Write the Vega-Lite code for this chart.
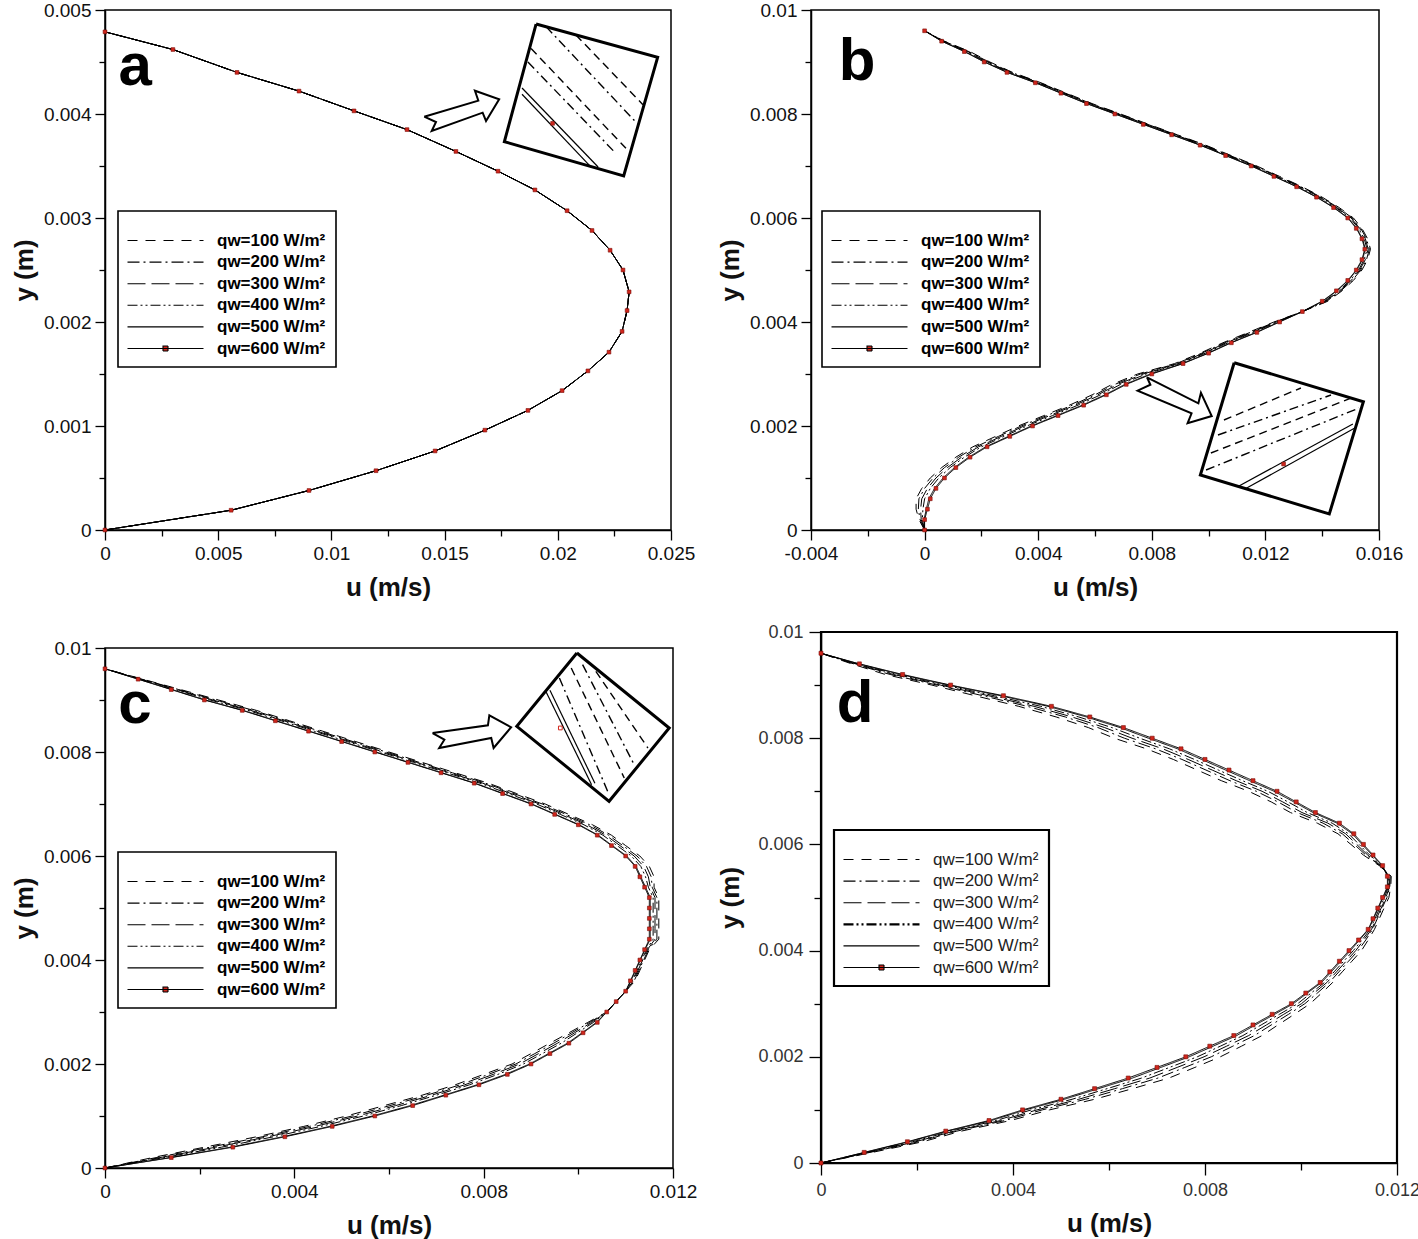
{
"$schema": "https://vega.github.io/schema/vega-lite/v6.json",
"background": "white",
"padding": {"left": 10, "top": 0, "right": 0, "bottom": 0},
"datasets": {
"A": [
{"y":0.00479,"q100":0,"q200":0,"q300":0,"q400":0,"q500":0,"q600":0},
{"y":0.00462,"q100":0.003,"q200":0.003,"q300":0.003,"q400":0.003,"q500":0.003,"q600":0.003},
{"y":0.0044,"q100":0.00583,"q200":0.00583,"q300":0.00583,"q400":0.00583,"q500":0.00583,"q600":0.00583},
{"y":0.00422,"q100":0.00857,"q200":0.00857,"q300":0.00857,"q400":0.00857,"q500":0.00857,"q600":0.00857},
{"y":0.00403,"q100":0.011,"q200":0.011,"q300":0.011,"q400":0.011,"q500":0.011,"q600":0.011},
{"y":0.00385,"q100":0.01334,"q200":0.01334,"q300":0.01334,"q400":0.01334,"q500":0.01334,"q600":0.01334},
{"y":0.00364,"q100":0.0155,"q200":0.0155,"q300":0.0155,"q400":0.0155,"q500":0.0155,"q600":0.0155},
{"y":0.00345,"q100":0.01736,"q200":0.01736,"q300":0.01736,"q400":0.01736,"q500":0.01736,"q600":0.01736},
{"y":0.00327,"q100":0.01899,"q200":0.01899,"q300":0.01899,"q400":0.01899,"q500":0.01899,"q600":0.01899},
{"y":0.00307,"q100":0.02041,"q200":0.02041,"q300":0.02041,"q400":0.02041,"q500":0.02041,"q600":0.02041},
{"y":0.00288,"q100":0.02151,"q200":0.02151,"q300":0.02151,"q400":0.02151,"q500":0.02151,"q600":0.02151},
{"y":0.00269,"q100":0.02231,"q200":0.02231,"q300":0.02231,"q400":0.02231,"q500":0.02231,"q600":0.02231},
{"y":0.0025,"q100":0.02288,"q200":0.02288,"q300":0.02288,"q400":0.02288,"q500":0.02288,"q600":0.02288},
{"y":0.00229,"q100":0.02315,"q200":0.02315,"q300":0.02315,"q400":0.02315,"q500":0.02315,"q600":0.02315},
{"y":0.00211,"q100":0.02306,"q200":0.02306,"q300":0.02306,"q400":0.02306,"q500":0.02306,"q600":0.02306},
{"y":0.00191,"q100":0.02284,"q200":0.02284,"q300":0.02284,"q400":0.02284,"q500":0.02284,"q600":0.02284},
{"y":0.00171,"q100":0.02226,"q200":0.02226,"q300":0.02226,"q400":0.02226,"q500":0.02226,"q600":0.02226},
{"y":0.00153,"q100":0.02133,"q200":0.02133,"q300":0.02133,"q400":0.02133,"q500":0.02133,"q600":0.02133},
{"y":0.00134,"q100":0.02019,"q200":0.02019,"q300":0.02019,"q400":0.02019,"q500":0.02019,"q600":0.02019},
{"y":0.00115,"q100":0.01868,"q200":0.01868,"q300":0.01868,"q400":0.01868,"q500":0.01868,"q600":0.01868},
{"y":0.00096,"q100":0.01678,"q200":0.01678,"q300":0.01678,"q400":0.01678,"q500":0.01678,"q600":0.01678},
{"y":0.00076,"q100":0.01458,"q200":0.01458,"q300":0.01458,"q400":0.01458,"q500":0.01458,"q600":0.01458},
{"y":0.00057,"q100":0.01197,"q200":0.01197,"q300":0.01197,"q400":0.01197,"q500":0.01197,"q600":0.01197},
{"y":0.00038,"q100":0.00901,"q200":0.00901,"q300":0.00901,"q400":0.00901,"q500":0.00901,"q600":0.00901},
{"y":0.00019,"q100":0.00557,"q200":0.00557,"q300":0.00557,"q400":0.00557,"q500":0.00557,"q600":0.00557},
{"y":0,"q100":0,"q200":0,"q300":0,"q400":0,"q500":0,"q600":0}
],
"B": [
{"y":0.0096,"q100":0,"q200":0,"q300":0,"q400":0,"q500":0,"q600":0},
{"y":0.0094,"q100":0.0007,"q200":0.00068,"q300":0.00066,"q400":0.00064,"q500":0.00061,"q600":0.0006},
{"y":0.0092,"q100":0.0016,"q200":0.00156,"q300":0.00152,"q400":0.00148,"q500":0.00142,"q600":0.0014},
{"y":0.009,"q100":0.0023,"q200":0.00226,"q300":0.00222,"q400":0.00218,"q500":0.00212,"q600":0.0021},
{"y":0.0088,"q100":0.0031,"q200":0.00306,"q300":0.00302,"q400":0.00298,"q500":0.00292,"q600":0.0029},
{"y":0.0086,"q100":0.0041,"q200":0.00406,"q300":0.00402,"q400":0.00398,"q500":0.00392,"q600":0.0039},
{"y":0.0084,"q100":0.005,"q200":0.00496,"q300":0.00492,"q400":0.00488,"q500":0.00482,"q600":0.0048},
{"y":0.0082,"q100":0.0059,"q200":0.00586,"q300":0.00582,"q400":0.00578,"q500":0.00572,"q600":0.0057},
{"y":0.008,"q100":0.0069,"q200":0.00686,"q300":0.00682,"q400":0.00678,"q500":0.00672,"q600":0.0067},
{"y":0.0078,"q100":0.0079,"q200":0.00786,"q300":0.00782,"q400":0.00778,"q500":0.00772,"q600":0.0077},
{"y":0.0076,"q100":0.0089,"q200":0.00886,"q300":0.00882,"q400":0.00878,"q500":0.00872,"q600":0.0087},
{"y":0.0074,"q100":0.0099,"q200":0.00986,"q300":0.00982,"q400":0.00978,"q500":0.00972,"q600":0.0097},
{"y":0.0072,"q100":0.0108,"q200":0.01076,"q300":0.01072,"q400":0.01068,"q500":0.01062,"q600":0.0106},
{"y":0.007,"q100":0.0117,"q200":0.01166,"q300":0.01162,"q400":0.01158,"q500":0.01152,"q600":0.0115},
{"y":0.0068,"q100":0.0125,"q200":0.01246,"q300":0.01242,"q400":0.01238,"q500":0.01232,"q600":0.0123},
{"y":0.0066,"q100":0.0133,"q200":0.01326,"q300":0.01322,"q400":0.01318,"q500":0.01312,"q600":0.0131},
{"y":0.0064,"q100":0.014,"q200":0.01396,"q300":0.01392,"q400":0.01388,"q500":0.01382,"q600":0.0138},
{"y":0.0062,"q100":0.0146,"q200":0.01456,"q300":0.01452,"q400":0.01448,"q500":0.01442,"q600":0.0144},
{"y":0.006,"q100":0.0151,"q200":0.01506,"q300":0.01502,"q400":0.01498,"q500":0.01492,"q600":0.0149},
{"y":0.0058,"q100":0.0154,"q200":0.01536,"q300":0.01532,"q400":0.01528,"q500":0.01522,"q600":0.0152},
{"y":0.0056,"q100":0.0156,"q200":0.01556,"q300":0.01552,"q400":0.01548,"q500":0.01542,"q600":0.0154},
{"y":0.0054,"q100":0.0157,"q200":0.01566,"q300":0.01562,"q400":0.01558,"q500":0.01552,"q600":0.0155},
{"y":0.0052,"q100":0.0156,"q200":0.01556,"q300":0.01552,"q400":0.01548,"q500":0.01542,"q600":0.0154},
{"y":0.005,"q100":0.0154,"q200":0.01536,"q300":0.01532,"q400":0.01528,"q500":0.01522,"q600":0.0152},
{"y":0.0048,"q100":0.0151,"q200":0.01506,"q300":0.01502,"q400":0.01498,"q500":0.01492,"q600":0.0149},
{"y":0.0046,"q100":0.0147,"q200":0.01466,"q300":0.01462,"q400":0.01458,"q500":0.01452,"q600":0.0145},
{"y":0.0044,"q100":0.0142,"q200":0.01416,"q300":0.01412,"q400":0.01408,"q500":0.01402,"q600":0.014},
{"y":0.0042,"q100":0.0133,"q200":0.0133,"q300":0.0133,"q400":0.0133,"q500":0.0133,"q600":0.0133},
{"y":0.004,"q100":0.0123,"q200":0.01234,"q300":0.01238,"q400":0.01242,"q500":0.01248,"q600":0.0125},
{"y":0.0038,"q100":0.0114,"q200":0.01146,"q300":0.01152,"q400":0.01158,"q500":0.01167,"q600":0.0117},
{"y":0.0036,"q100":0.0105,"q200":0.01056,"q300":0.01062,"q400":0.01068,"q500":0.01077,"q600":0.0108},
{"y":0.0034,"q100":0.0097,"q200":0.00976,"q300":0.00982,"q400":0.00988,"q500":0.00997,"q600":0.01},
{"y":0.0032,"q100":0.0088,"q200":0.00886,"q300":0.00892,"q400":0.00898,"q500":0.00907,"q600":0.0091},
{"y":0.003,"q100":0.0075,"q200":0.0076,"q300":0.0077,"q400":0.0078,"q500":0.00795,"q600":0.008},
{"y":0.0028,"q100":0.0066,"q200":0.0067,"q300":0.0068,"q400":0.0069,"q500":0.00705,"q600":0.0071},
{"y":0.0026,"q100":0.0059,"q200":0.006,"q300":0.0061,"q400":0.0062,"q500":0.00635,"q600":0.0064},
{"y":0.0024,"q100":0.0051,"q200":0.0052,"q300":0.0053,"q400":0.0054,"q500":0.00555,"q600":0.0056},
{"y":0.0022,"q100":0.0042,"q200":0.0043,"q300":0.0044,"q400":0.0045,"q500":0.00465,"q600":0.0047},
{"y":0.002,"q100":0.0033,"q200":0.0034,"q300":0.0035,"q400":0.0036,"q500":0.00375,"q600":0.0038},
{"y":0.0018,"q100":0.0025,"q200":0.0026,"q300":0.0027,"q400":0.0028,"q500":0.00295,"q600":0.003},
{"y":0.0016,"q100":0.0017,"q200":0.0018,"q300":0.0019,"q400":0.002,"q500":0.00215,"q600":0.0022},
{"y":0.0014,"q100":0.0011,"q200":0.0012,"q300":0.0013,"q400":0.0014,"q500":0.00155,"q600":0.0016},
{"y":0.0012,"q100":0.0006,"q200":0.0007,"q300":0.0008,"q400":0.0009,"q500":0.00105,"q600":0.0011},
{"y":0.001,"q100":0.0002,"q200":0.0003,"q300":0.0004,"q400":0.0005,"q500":0.00065,"q600":0.0007},
{"y":0.0008,"q100":-0.0001,"q200":0,"q300":0.0001,"q400":0.0002,"q500":0.00035,"q600":0.0004},
{"y":0.0006,"q100":-0.0003,"q200":-0.0002,"q300":-0.0001,"q400":0,"q500":0.00015,"q600":0.0002},
{"y":0.0004,"q100":-0.0003,"q200":-0.00022,"q300":-0.00014,"q400":-0.00006,"q500":0.00006,"q600":0.0001},
{"y":0.0002,"q100":-0.0002,"q200":-0.00016,"q300":-0.00012,"q400":-0.00008,"q500":-0.00002,"q600":0},
{"y":0,"q100":0,"q200":0,"q300":0,"q400":0,"q500":0,"q600":0}
],
"C": [
{"y":0.0096,"q100":0,"q200":0,"q300":0,"q400":0,"q500":0,"q600":0},
{"y":0.0094,"q100":0.0008,"q200":0.00078,"q300":0.00076,"q400":0.00074,"q500":0.00071,"q600":0.0007},
{"y":0.0092,"q100":0.0016,"q200":0.00156,"q300":0.00152,"q400":0.00148,"q500":0.00142,"q600":0.0014},
{"y":0.009,"q100":0.0024,"q200":0.00234,"q300":0.00228,"q400":0.00222,"q500":0.00212,"q600":0.0021},
{"y":0.0088,"q100":0.0032,"q200":0.00314,"q300":0.00308,"q400":0.00302,"q500":0.00292,"q600":0.0029},
{"y":0.0086,"q100":0.0039,"q200":0.00384,"q300":0.00378,"q400":0.00372,"q500":0.00362,"q600":0.0036},
{"y":0.0084,"q100":0.0046,"q200":0.00454,"q300":0.00448,"q400":0.00442,"q500":0.00432,"q600":0.0043},
{"y":0.0082,"q100":0.0053,"q200":0.00524,"q300":0.00518,"q400":0.00512,"q500":0.00502,"q600":0.005},
{"y":0.008,"q100":0.006,"q200":0.00594,"q300":0.00588,"q400":0.00582,"q500":0.00572,"q600":0.0057},
{"y":0.0078,"q100":0.0067,"q200":0.00664,"q300":0.00658,"q400":0.00652,"q500":0.00642,"q600":0.0064},
{"y":0.0076,"q100":0.0074,"q200":0.00734,"q300":0.00728,"q400":0.00722,"q500":0.00712,"q600":0.0071},
{"y":0.0074,"q100":0.0081,"q200":0.00804,"q300":0.00798,"q400":0.00792,"q500":0.00782,"q600":0.0078},
{"y":0.0072,"q100":0.0087,"q200":0.00864,"q300":0.00858,"q400":0.00852,"q500":0.00842,"q600":0.0084},
{"y":0.007,"q100":0.0093,"q200":0.00924,"q300":0.00918,"q400":0.00912,"q500":0.00902,"q600":0.009},
{"y":0.0068,"q100":0.0098,"q200":0.00974,"q300":0.00968,"q400":0.00962,"q500":0.00952,"q600":0.0095},
{"y":0.0066,"q100":0.0103,"q200":0.01024,"q300":0.01018,"q400":0.01012,"q500":0.01002,"q600":0.01},
{"y":0.0064,"q100":0.0107,"q200":0.01064,"q300":0.01058,"q400":0.01052,"q500":0.01042,"q600":0.0104},
{"y":0.0062,"q100":0.011,"q200":0.01094,"q300":0.01088,"q400":0.01082,"q500":0.01072,"q600":0.0107},
{"y":0.006,"q100":0.0113,"q200":0.01124,"q300":0.01118,"q400":0.01112,"q500":0.01102,"q600":0.011},
{"y":0.0058,"q100":0.0115,"q200":0.01144,"q300":0.01138,"q400":0.01132,"q500":0.01122,"q600":0.0112},
{"y":0.0056,"q100":0.0116,"q200":0.01154,"q300":0.01148,"q400":0.01142,"q500":0.01132,"q600":0.0113},
{"y":0.0054,"q100":0.0116,"q200":0.01156,"q300":0.01152,"q400":0.01148,"q500":0.01142,"q600":0.0114},
{"y":0.0052,"q100":0.0117,"q200":0.01166,"q300":0.01162,"q400":0.01158,"q500":0.01152,"q600":0.0115},
{"y":0.005,"q100":0.0117,"q200":0.01166,"q300":0.01162,"q400":0.01158,"q500":0.01152,"q600":0.0115},
{"y":0.0048,"q100":0.0117,"q200":0.01166,"q300":0.01162,"q400":0.01158,"q500":0.01152,"q600":0.0115},
{"y":0.0046,"q100":0.0117,"q200":0.01166,"q300":0.01162,"q400":0.01158,"q500":0.01152,"q600":0.0115},
{"y":0.0044,"q100":0.0117,"q200":0.01166,"q300":0.01162,"q400":0.01158,"q500":0.01152,"q600":0.0115},
{"y":0.0042,"q100":0.0115,"q200":0.01148,"q300":0.01146,"q400":0.01144,"q500":0.01141,"q600":0.0114},
{"y":0.004,"q100":0.0114,"q200":0.01138,"q300":0.01136,"q400":0.01134,"q500":0.01131,"q600":0.0113},
{"y":0.0038,"q100":0.0113,"q200":0.01128,"q300":0.01126,"q400":0.01124,"q500":0.01121,"q600":0.0112},
{"y":0.0036,"q100":0.0112,"q200":0.01118,"q300":0.01116,"q400":0.01114,"q500":0.01111,"q600":0.0111},
{"y":0.0034,"q100":0.011,"q200":0.011,"q300":0.011,"q400":0.011,"q500":0.011,"q600":0.011},
{"y":0.0032,"q100":0.0108,"q200":0.0108,"q300":0.0108,"q400":0.0108,"q500":0.0108,"q600":0.0108},
{"y":0.003,"q100":0.0106,"q200":0.0106,"q300":0.0106,"q400":0.0106,"q500":0.0106,"q600":0.0106},
{"y":0.0028,"q100":0.0102,"q200":0.01024,"q300":0.01028,"q400":0.01032,"q500":0.01038,"q600":0.0104},
{"y":0.0026,"q100":0.0098,"q200":0.00986,"q300":0.00992,"q400":0.00998,"q500":0.01008,"q600":0.0101},
{"y":0.0024,"q100":0.0094,"q200":0.00948,"q300":0.00956,"q400":0.00964,"q500":0.00977,"q600":0.0098},
{"y":0.0022,"q100":0.009,"q200":0.00908,"q300":0.00916,"q400":0.00924,"q500":0.00937,"q600":0.0094},
{"y":0.002,"q100":0.0086,"q200":0.00868,"q300":0.00876,"q400":0.00884,"q500":0.00897,"q600":0.009},
{"y":0.0018,"q100":0.008,"q200":0.0081,"q300":0.0082,"q400":0.0083,"q500":0.00846,"q600":0.0085},
{"y":0.0016,"q100":0.0074,"q200":0.0075,"q300":0.0076,"q400":0.0077,"q500":0.00786,"q600":0.0079},
{"y":0.0014,"q100":0.0067,"q200":0.0068,"q300":0.0069,"q400":0.007,"q500":0.00716,"q600":0.0072},
{"y":0.0012,"q100":0.0059,"q200":0.00602,"q300":0.00614,"q400":0.00626,"q500":0.00645,"q600":0.0065},
{"y":0.001,"q100":0.0051,"q200":0.00522,"q300":0.00534,"q400":0.00546,"q500":0.00565,"q600":0.0057},
{"y":0.0008,"q100":0.0042,"q200":0.00432,"q300":0.00444,"q400":0.00456,"q500":0.00475,"q600":0.0048},
{"y":0.0006,"q100":0.0032,"q200":0.00332,"q300":0.00344,"q400":0.00356,"q500":0.00375,"q600":0.0038},
{"y":0.0004,"q100":0.0021,"q200":0.00222,"q300":0.00234,"q400":0.00246,"q500":0.00265,"q600":0.0027},
{"y":0.0002,"q100":0.001,"q200":0.00108,"q300":0.00116,"q400":0.00124,"q500":0.00137,"q600":0.0014},
{"y":0,"q100":0,"q200":0,"q300":0,"q400":0,"q500":0,"q600":0}
],
"D": [
{"y":0.0096,"q100":0,"q200":0,"q300":0,"q400":0,"q500":0,"q600":0},
{"y":0.0094,"q100":0.00064,"q200":0.00068,"q300":0.00072,"q400":0.00075,"q500":0.00078,"q600":0.0008},
{"y":0.0092,"q100":0.00134,"q200":0.00144,"q300":0.00151,"q400":0.00158,"q500":0.00166,"q600":0.0017},
{"y":0.009,"q100":0.00231,"q200":0.00242,"q300":0.00249,"q400":0.00257,"q500":0.00266,"q600":0.0027},
{"y":0.0088,"q100":0.00321,"q200":0.00337,"q300":0.00349,"q400":0.00361,"q500":0.00374,"q600":0.0038},
{"y":0.0086,"q100":0.00412,"q200":0.0043,"q300":0.00444,"q400":0.00458,"q500":0.00473,"q600":0.0048},
{"y":0.0084,"q100":0.0049,"q200":0.00509,"q300":0.00523,"q400":0.00537,"q500":0.00553,"q600":0.0056},
{"y":0.0082,"q100":0.00557,"q200":0.00577,"q300":0.00591,"q400":0.00606,"q500":0.00623,"q600":0.0063},
{"y":0.008,"q100":0.00611,"q200":0.00632,"q300":0.00648,"q400":0.00664,"q500":0.00682,"q600":0.0069},
{"y":0.0078,"q100":0.00678,"q200":0.00697,"q300":0.00712,"q400":0.00726,"q500":0.00743,"q600":0.0075},
{"y":0.0076,"q100":0.00734,"q200":0.00752,"q300":0.00765,"q400":0.00778,"q500":0.00793,"q600":0.008},
{"y":0.0074,"q100":0.00784,"q200":0.00802,"q300":0.00815,"q400":0.00828,"q500":0.00843,"q600":0.0085},
{"y":0.0072,"q100":0.00834,"q200":0.00852,"q300":0.00865,"q400":0.00878,"q500":0.00893,"q600":0.009},
{"y":0.007,"q100":0.00891,"q200":0.00907,"q300":0.00919,"q400":0.00931,"q500":0.00944,"q600":0.0095},
{"y":0.0068,"q100":0.00938,"q200":0.00952,"q300":0.00962,"q400":0.00973,"q500":0.00985,"q600":0.0099},
{"y":0.0066,"q100":0.00978,"q200":0.00992,"q300":0.01002,"q400":0.01013,"q500":0.01025,"q600":0.0103},
{"y":0.0064,"q100":0.01034,"q200":0.01046,"q300":0.01056,"q400":0.01065,"q500":0.01075,"q600":0.0108},
{"y":0.0062,"q100":0.01077,"q200":0.01086,"q300":0.01093,"q400":0.01099,"q500":0.01107,"q600":0.0111},
{"y":0.006,"q100":0.01104,"q200":0.01111,"q300":0.01116,"q400":0.01121,"q500":0.01127,"q600":0.0113},
{"y":0.0058,"q100":0.0113,"q200":0.01135,"q300":0.01139,"q400":0.01143,"q500":0.01148,"q600":0.0115},
{"y":0.0056,"q100":0.01163,"q200":0.01165,"q300":0.01166,"q400":0.01168,"q500":0.01169,"q600":0.0117},
{"y":0.0054,"q100":0.01188,"q200":0.01186,"q300":0.01184,"q400":0.01183,"q500":0.01181,"q600":0.0118},
{"y":0.0052,"q100":0.01187,"q200":0.01185,"q300":0.01184,"q400":0.01182,"q500":0.01181,"q600":0.0118},
{"y":0.005,"q100":0.01183,"q200":0.01179,"q300":0.01177,"q400":0.01174,"q500":0.01171,"q600":0.0117},
{"y":0.0048,"q100":0.01173,"q200":0.01169,"q300":0.01167,"q400":0.01164,"q500":0.01161,"q600":0.0116},
{"y":0.0046,"q100":0.01163,"q200":0.01159,"q300":0.01157,"q400":0.01154,"q500":0.01151,"q600":0.0115},
{"y":0.0044,"q100":0.01153,"q200":0.01149,"q300":0.01147,"q400":0.01144,"q500":0.01141,"q600":0.0114},
{"y":0.0042,"q100":0.0114,"q200":0.01135,"q300":0.01131,"q400":0.01127,"q500":0.01122,"q600":0.0112},
{"y":0.004,"q100":0.01126,"q200":0.01119,"q300":0.01114,"q400":0.01109,"q500":0.01103,"q600":0.011},
{"y":0.0038,"q100":0.01106,"q200":0.01099,"q300":0.01094,"q400":0.01089,"q500":0.01083,"q600":0.0108},
{"y":0.0036,"q100":0.01086,"q200":0.01079,"q300":0.01074,"q400":0.01069,"q500":0.01063,"q600":0.0106},
{"y":0.0034,"q100":0.01066,"q200":0.01059,"q300":0.01054,"q400":0.01049,"q500":0.01043,"q600":0.0104},
{"y":0.0032,"q100":0.01043,"q200":0.01034,"q300":0.01027,"q400":0.01021,"q500":0.01013,"q600":0.0101},
{"y":0.003,"q100":0.01019,"q200":0.01008,"q300":0.01001,"q400":0.00993,"q500":0.00984,"q600":0.0098},
{"y":0.0028,"q100":0.00986,"q200":0.00974,"q300":0.00964,"q400":0.00955,"q500":0.00945,"q600":0.0094},
{"y":0.0026,"q100":0.00952,"q200":0.00938,"q300":0.00928,"q400":0.00917,"q500":0.00905,"q600":0.009},
{"y":0.0024,"q100":0.00919,"q200":0.00903,"q300":0.00891,"q400":0.00879,"q500":0.00866,"q600":0.0086},
{"y":0.0022,"q100":0.00876,"q200":0.00858,"q300":0.00845,"q400":0.00832,"q500":0.00817,"q600":0.0081},
{"y":0.002,"q100":0.00832,"q200":0.00813,"q300":0.00798,"q400":0.00784,"q500":0.00767,"q600":0.0076},
{"y":0.0018,"q100":0.00779,"q200":0.00758,"q300":0.00742,"q400":0.00726,"q500":0.00708,"q600":0.007},
{"y":0.0016,"q100":0.00725,"q200":0.00702,"q300":0.00685,"q400":0.00668,"q500":0.00649,"q600":0.0064},
{"y":0.0014,"q100":0.00649,"q200":0.00628,"q300":0.00612,"q400":0.00596,"q500":0.00578,"q600":0.0057},
{"y":0.0012,"q100":0.0057,"q200":0.00551,"q300":0.00537,"q400":0.00523,"q500":0.00507,"q600":0.005},
{"y":0.001,"q100":0.00476,"q200":0.00461,"q300":0.0045,"q400":0.00438,"q500":0.00426,"q600":0.0042},
{"y":0.0008,"q100":0.00395,"q200":0.00383,"q300":0.00374,"q400":0.00365,"q500":0.00355,"q600":0.0035},
{"y":0.0006,"q100":0.00292,"q200":0.00283,"q300":0.00277,"q400":0.00271,"q500":0.00263,"q600":0.0026},
{"y":0.0004,"q100":0.00212,"q200":0.00203,"q300":0.00197,"q400":0.00191,"q500":0.00183,"q600":0.0018},
{"y":0.0002,"q100":0.00107,"q200":0.00102,"q300":0.00099,"q400":0.00095,"q500":0.00092,"q600":0.0009},
{"y":0,"q100":0,"q200":0,"q300":0,"q400":0,"q500":0,"q600":0}
],
"IA": [
{"g":"frame","id":"f","i":0,"u":0.01904,"y":0.004865},{"g":"frame","id":"f","i":1,"u":0.02441,"y":0.004545},{"g":"frame","id":"f","i":2,"u":0.02291,"y":0.003404},{"g":"frame","id":"f","i":3,"u":0.01764,"y":0.003734},{"g":"frame","id":"f","i":4,"u":0.01904,"y":0.004865},
{"g":"arrow","id":"a","i":0,"u":0.0141,"y":0.003974},{"g":"arrow","id":"a","i":1,"u":0.01649,"y":0.004128},{"g":"arrow","id":"a","i":2,"u":0.01634,"y":0.004224},{"g":"arrow","id":"a","i":3,"u":0.01741,"y":0.004141},{"g":"arrow","id":"a","i":4,"u":0.01683,"y":0.003933},{"g":"arrow","id":"a","i":5,"u":0.01668,"y":0.004013},{"g":"arrow","id":"a","i":6,"u":0.01443,"y":0.003837},{"g":"arrow","id":"a","i":7,"u":0.01462,"y":0.003923},{"g":"arrow","id":"a","i":8,"u":0.0141,"y":0.003974},
{"g":"solid","id":"s1","i":0,"u":0.01842,"y":0.00425},{"g":"solid","id":"s1","i":1,"u":0.02178,"y":0.00349},
{"g":"solid","id":"s2","i":0,"u":0.01842,"y":0.00419},{"g":"solid","id":"s2","i":1,"u":0.02147,"y":0.00349},
{"g":"dashA","id":"d1","i":0,"u":0.01868,"y":0.0045},{"g":"dashA","id":"d1","i":1,"u":0.02257,"y":0.00362},
{"g":"dashA","id":"d3","i":0,"u":0.01948,"y":0.00484},{"g":"dashA","id":"d3","i":1,"u":0.0235,"y":0.00391},
{"g":"dashB","id":"d2","i":0,"u":0.01882,"y":0.00463},{"g":"dashB","id":"d2","i":1,"u":0.02301,"y":0.00367},
{"g":"dashB","id":"d4","i":0,"u":0.0208,"y":0.00476},{"g":"dashB","id":"d4","i":1,"u":0.02376,"y":0.00409},
{"g":"dot","id":"p","i":0,"u":0.01977,"y":0.00391}
],
"IB": [
{"g":"frame","id":"f","i":0,"u":0.0109,"y":0.003217},{"g":"frame","id":"f","i":1,"u":0.01545,"y":0.002467},{"g":"frame","id":"f","i":2,"u":0.01425,"y":0.000308},{"g":"frame","id":"f","i":3,"u":0.00971,"y":0.001058},{"g":"frame","id":"f","i":4,"u":0.0109,"y":0.003217},
{"g":"arrow","id":"a","i":0,"u":0.00783,"y":0.002937},{"g":"arrow","id":"a","i":1,"u":0.00964,"y":0.002437},{"g":"arrow","id":"a","i":2,"u":0.00973,"y":0.00264},{"g":"arrow","id":"a","i":3,"u":0.01011,"y":0.002192},{"g":"arrow","id":"a","i":4,"u":0.00926,"y":0.002052},{"g":"arrow","id":"a","i":5,"u":0.0094,"y":0.002244},{"g":"arrow","id":"a","i":6,"u":0.0075,"y":0.002679},{"g":"arrow","id":"a","i":7,"u":0.00795,"y":0.002794},{"g":"arrow","id":"a","i":8,"u":0.00783,"y":0.002937},
{"g":"solid","id":"s1","i":0,"u":0.01107,"y":0.000846},{"g":"solid","id":"s1","i":1,"u":0.01508,"y":0.002038},
{"g":"solid","id":"s2","i":0,"u":0.01128,"y":0.000788},{"g":"solid","id":"s2","i":1,"u":0.01515,"y":0.001962},
{"g":"dashA","id":"d1","i":0,"u":0.00991,"y":0.001154},{"g":"dashA","id":"d1","i":1,"u":0.0153,"y":0.002346},
{"g":"dashA","id":"d3","i":0,"u":0.01033,"y":0.001827},{"g":"dashA","id":"d3","i":1,"u":0.01431,"y":0.002596},
{"g":"dashB","id":"d2","i":0,"u":0.01008,"y":0.001481},{"g":"dashB","id":"d2","i":1,"u":0.01512,"y":0.002558},
{"g":"dashB","id":"d4","i":0,"u":0.01054,"y":0.002115},{"g":"dashB","id":"d4","i":1,"u":0.01325,"y":0.002731},
{"g":"dot","id":"p","i":0,"u":0.01264,"y":0.001269}
],
"IC": [
{"g":"frame","id":"f","i":0,"u":0.00997,"y":0.009904},{"g":"frame","id":"f","i":1,"u":0.01192,"y":0.008462},{"g":"frame","id":"f","i":2,"u":0.01065,"y":0.007052},{"g":"frame","id":"f","i":3,"u":0.0087,"y":0.008494},{"g":"frame","id":"f","i":4,"u":0.00997,"y":0.009904},
{"g":"arrow","id":"a","i":0,"u":0.00692,"y":0.008365},{"g":"arrow","id":"a","i":1,"u":0.00809,"y":0.008513},{"g":"arrow","id":"a","i":2,"u":0.00812,"y":0.008706},{"g":"arrow","id":"a","i":3,"u":0.00858,"y":0.008475},{"g":"arrow","id":"a","i":4,"u":0.00821,"y":0.008077},{"g":"arrow","id":"a","i":5,"u":0.00816,"y":0.008269},{"g":"arrow","id":"a","i":6,"u":0.00706,"y":0.008077},{"g":"arrow","id":"a","i":7,"u":0.00717,"y":0.008237},{"g":"arrow","id":"a","i":8,"u":0.00692,"y":0.008365},
{"g":"solid","id":"s1","i":0,"u":0.00932,"y":0.009154},{"g":"solid","id":"s1","i":1,"u":0.01028,"y":0.007371},
{"g":"solid","id":"s2","i":0,"u":0.0094,"y":0.009187},{"g":"solid","id":"s2","i":1,"u":0.01035,"y":0.007398},
{"g":"dashA","id":"d1","i":0,"u":0.0096,"y":0.009423},{"g":"dashA","id":"d1","i":1,"u":0.01062,"y":0.007244},
{"g":"dashA","id":"d3","i":0,"u":0.01009,"y":0.009679},{"g":"dashA","id":"d3","i":1,"u":0.01118,"y":0.007756},
{"g":"dashB","id":"d2","i":0,"u":0.00985,"y":0.009615},{"g":"dashB","id":"d2","i":1,"u":0.01097,"y":0.0075},
{"g":"dashB","id":"d4","i":0,"u":0.01037,"y":0.009552},{"g":"dashB","id":"d4","i":1,"u":0.01147,"y":0.008077},
{"g":"dot","id":"p","i":0,"u":0.00962,"y":0.008462}
]
},
"columns": 2,
"align": "none",
"spacing": {"row": 20, "column": 18},
"resolve": {"scale": {"strokeDash": "independent"}, "legend": {"strokeDash": "independent"}},
"concat": [
{
"width": 566, "height": 520,
"data": {"name": "A"},
"layer": [
{"transform": [{"fold": ["q100","q200","q300","q400","q500","q600"], "as": ["series","u"]}],
 "mark": {"type": "line", "color": "black", "strokeWidth": 1},
 "encoding": {
  "x": {"field": "u", "type": "quantitative", "scale": {"domain": [0, 0.025], "nice": false, "zero": false},
   "axis": {"title": "u (m/s)", "values": [0,0.0025,0.005,0.0075,0.01,0.0125,0.015,0.0175,0.02,0.0225,0.025],
    "labelExpr": "abs(datum.value/0.005-round(datum.value/0.005))<0.01 ? format(datum.value,'~g') : ''",
    "tickSize": {"condition": {"test": "abs(datum.value/0.005-round(datum.value/0.005))>0.01", "value": 6}, "value": 10}}},
  "y": {"field": "y", "type": "quantitative", "scale": {"domain": [0, 0.005], "nice": false, "zero": false},
   "axis": {"title": "y (m)", "values": [0,0.0005,0.001,0.0015,0.002,0.0025,0.003,0.0035,0.004,0.0045,0.005],
    "labelExpr": "abs(datum.value/0.001-round(datum.value/0.001))<0.01 ? format(datum.value,'~g') : ''",
    "tickSize": {"condition": {"test": "abs(datum.value/0.001-round(datum.value/0.001))>0.01", "value": 6}, "value": 10}}},
  "order": {"field": "y", "type": "quantitative"},
  "strokeDash": {"field": "series", "type": "nominal",
   "scale": {"domain": ["q100","q200","q300","q400","q500","q600"], "range": [[10,8],[12,4,2,4],[18,6],[10,3,2,3,2,3],[1,0],[1,0]]},
   "legend": {"title": " ", "titleFontSize": 8, "titlePadding": 3, "orient": "none", "legendX": 13, "legendY": 201,
    "labelExpr": "'qw=' + slice(datum.label, 1) + ' W/m²'",
    "encode": {"symbols": {"update": {"shape": {"signal": "datum.value === 'q600' ? 'M-1.8,0H13.4M5.3,-0.5H6.3V0.5H5.3Z' : 'M-1.8,0H13.4'"}, "fill": {"signal": "datum.value === 'q600' ? '#d0261c' : 'transparent'"}, "stroke": {"value": "black"}, "strokeWidth": {"value": 1.1}, "opacity": {"value": 1}}},
               "legend": {"update": {"strokeWidth": {"value": 1.6}}}}}}
 }},
{"transform": [{"fold": ["q600"], "as": ["series","u"]}],
 "mark": {"type": "point", "shape": "square", "size": 14, "filled": true, "fill": "#d0261c", "stroke": "#7a0f0a", "strokeWidth": 0.6, "opacity": 1},
 "encoding": {"x": {"field": "u", "type": "quantitative"}, "y": {"field": "y", "type": "quantitative"}}},
{"data": {"name": "IA"}, "transform": [{"filter": "datum.g === 'frame'"}],
 "mark": {"type": "line", "color": "black", "strokeWidth": 3, "strokeJoin": "miter"},
 "encoding": {"x": {"field": "u", "type": "quantitative"}, "y": {"field": "y", "type": "quantitative"}, "order": {"field": "i", "type": "quantitative"}, "detail": {"field": "id", "type": "nominal"}}},
{"data": {"name": "IA"}, "transform": [{"filter": "datum.g === 'arrow'"}],
 "mark": {"type": "line", "color": "black", "strokeWidth": 2, "strokeJoin": "miter"},
 "encoding": {"x": {"field": "u", "type": "quantitative"}, "y": {"field": "y", "type": "quantitative"}, "order": {"field": "i", "type": "quantitative"}, "detail": {"field": "id", "type": "nominal"}}},
{"data": {"name": "IA"}, "transform": [{"filter": "datum.g === 'solid'"}],
 "mark": {"type": "line", "color": "black", "strokeWidth": 1.2},
 "encoding": {"x": {"field": "u", "type": "quantitative"}, "y": {"field": "y", "type": "quantitative"}, "order": {"field": "i", "type": "quantitative"}, "detail": {"field": "id", "type": "nominal"}}},
{"data": {"name": "IA"}, "transform": [{"filter": "datum.g === 'dashA'"}],
 "mark": {"type": "line", "color": "black", "strokeWidth": 1.4, "strokeDash": [9,4,2,4]},
 "encoding": {"x": {"field": "u", "type": "quantitative"}, "y": {"field": "y", "type": "quantitative"}, "order": {"field": "i", "type": "quantitative"}, "detail": {"field": "id", "type": "nominal"}}},
{"data": {"name": "IA"}, "transform": [{"filter": "datum.g === 'dashB'"}],
 "mark": {"type": "line", "color": "black", "strokeWidth": 1.4, "strokeDash": [8,5]},
 "encoding": {"x": {"field": "u", "type": "quantitative"}, "y": {"field": "y", "type": "quantitative"}, "order": {"field": "i", "type": "quantitative"}, "detail": {"field": "id", "type": "nominal"}}},
{"data": {"name": "IA"}, "transform": [{"filter": "datum.g === 'dot'"}],
 "mark": {"type": "point", "shape": "square", "size": 14, "filled": true, "fill": "#d0261c", "stroke": "#7a0f0a", "strokeWidth": 0.6, "opacity": 1},
 "encoding": {"x": {"field": "u", "type": "quantitative"}, "y": {"field": "y", "type": "quantitative"}}},
{"data": {"values": [{"t": "a"}]},
 "mark": {"type": "text", "font": "Liberation Sans", "fontSize": 60, "fontWeight": "bold", "align": "center", "baseline": "alphabetic", "color": "black"},
 "encoding": {"x": {"datum": 0.00133, "type": "quantitative"}, "y": {"datum": 0.00428, "type": "quantitative"}, "text": {"field": "t"}}}
]
},
{
"width": 568, "height": 520,
"data": {"name": "B"},
"layer": [
{"transform": [{"fold": ["q100","q200","q300","q400","q500","q600"], "as": ["series","u"]}],
 "mark": {"type": "line", "color": "black", "strokeWidth": 1},
 "encoding": {
  "x": {"field": "u", "type": "quantitative", "scale": {"domain": [-0.004, 0.016], "nice": false, "zero": false},
   "axis": {"title": "u (m/s)", "values": [-0.004,-0.002,0,0.002,0.004,0.006,0.008,0.01,0.012,0.014,0.016],
    "labelExpr": "abs(datum.value/0.004-round(datum.value/0.004))<0.01 ? replace(format(datum.value,'~g'),'−','-') : ''",
    "tickSize": {"condition": {"test": "abs(datum.value/0.004-round(datum.value/0.004))>0.01", "value": 6}, "value": 10}}},
  "y": {"field": "y", "type": "quantitative", "scale": {"domain": [0, 0.01], "nice": false, "zero": false},
   "axis": {"title": "y (m)", "values": [0,0.001,0.002,0.003,0.004,0.005,0.006,0.007,0.008,0.009,0.01],
    "labelExpr": "abs(datum.value/0.002-round(datum.value/0.002))<0.01 ? format(datum.value,'~g') : ''",
    "tickSize": {"condition": {"test": "abs(datum.value/0.002-round(datum.value/0.002))>0.01", "value": 6}, "value": 10}}},
  "order": {"field": "y", "type": "quantitative"},
  "strokeDash": {"field": "series", "type": "nominal",
   "scale": {"domain": ["q100","q200","q300","q400","q500","q600"], "range": [[10,8],[12,4,2,4],[18,6],[10,3,2,3,2,3],[1,0],[1,0]]},
   "legend": {"title": " ", "titleFontSize": 8, "titlePadding": 3, "orient": "none", "legendX": 11, "legendY": 201,
    "labelExpr": "'qw=' + slice(datum.label, 1) + ' W/m²'",
    "encode": {"symbols": {"update": {"shape": {"signal": "datum.value === 'q600' ? 'M-1.8,0H13.4M5.3,-0.5H6.3V0.5H5.3Z' : 'M-1.8,0H13.4'"}, "fill": {"signal": "datum.value === 'q600' ? '#d0261c' : 'transparent'"}, "stroke": {"value": "black"}, "strokeWidth": {"value": 1.1}, "opacity": {"value": 1}}},
               "legend": {"update": {"strokeWidth": {"value": 1.6}}}}}}
 }},
{"transform": [{"fold": ["q600"], "as": ["series","u"]}],
 "mark": {"type": "point", "shape": "square", "size": 14, "filled": true, "fill": "#d0261c", "stroke": "#7a0f0a", "strokeWidth": 0.6, "opacity": 1},
 "encoding": {"x": {"field": "u", "type": "quantitative"}, "y": {"field": "y", "type": "quantitative"}}},
{"data": {"name": "IB"}, "transform": [{"filter": "datum.g === 'frame'"}],
 "mark": {"type": "line", "color": "black", "strokeWidth": 3, "strokeJoin": "miter"},
 "encoding": {"x": {"field": "u", "type": "quantitative"}, "y": {"field": "y", "type": "quantitative"}, "order": {"field": "i", "type": "quantitative"}, "detail": {"field": "id", "type": "nominal"}}},
{"data": {"name": "IB"}, "transform": [{"filter": "datum.g === 'arrow'"}],
 "mark": {"type": "line", "color": "black", "strokeWidth": 2, "strokeJoin": "miter"},
 "encoding": {"x": {"field": "u", "type": "quantitative"}, "y": {"field": "y", "type": "quantitative"}, "order": {"field": "i", "type": "quantitative"}, "detail": {"field": "id", "type": "nominal"}}},
{"data": {"name": "IB"}, "transform": [{"filter": "datum.g === 'solid'"}],
 "mark": {"type": "line", "color": "black", "strokeWidth": 1.2},
 "encoding": {"x": {"field": "u", "type": "quantitative"}, "y": {"field": "y", "type": "quantitative"}, "order": {"field": "i", "type": "quantitative"}, "detail": {"field": "id", "type": "nominal"}}},
{"data": {"name": "IB"}, "transform": [{"filter": "datum.g === 'dashA'"}],
 "mark": {"type": "line", "color": "black", "strokeWidth": 1.4, "strokeDash": [9,4,2,4]},
 "encoding": {"x": {"field": "u", "type": "quantitative"}, "y": {"field": "y", "type": "quantitative"}, "order": {"field": "i", "type": "quantitative"}, "detail": {"field": "id", "type": "nominal"}}},
{"data": {"name": "IB"}, "transform": [{"filter": "datum.g === 'dashB'"}],
 "mark": {"type": "line", "color": "black", "strokeWidth": 1.4, "strokeDash": [8,5]},
 "encoding": {"x": {"field": "u", "type": "quantitative"}, "y": {"field": "y", "type": "quantitative"}, "order": {"field": "i", "type": "quantitative"}, "detail": {"field": "id", "type": "nominal"}}},
{"data": {"name": "IB"}, "transform": [{"filter": "datum.g === 'dot'"}],
 "mark": {"type": "point", "shape": "square", "size": 14, "filled": true, "fill": "#d0261c", "stroke": "#7a0f0a", "strokeWidth": 0.6, "opacity": 1},
 "encoding": {"x": {"field": "u", "type": "quantitative"}, "y": {"field": "y", "type": "quantitative"}}},
{"data": {"values": [{"t": "b"}]},
 "mark": {"type": "text", "font": "Liberation Sans", "fontSize": 60, "fontWeight": "bold", "align": "center", "baseline": "alphabetic", "color": "black"},
 "encoding": {"x": {"datum": -0.00238, "type": "quantitative"}, "y": {"datum": 0.00865, "type": "quantitative"}, "text": {"field": "t"}}}
]
},
{
"width": 568, "height": 520,
"title": {"text": " ", "fontSize": 14, "offset": 3},
"data": {"name": "C"},
"layer": [
{"transform": [{"fold": ["q100","q200","q300","q400","q500","q600"], "as": ["series","u"]}],
 "mark": {"type": "line", "color": "black", "strokeWidth": 1},
 "encoding": {
  "x": {"field": "u", "type": "quantitative", "scale": {"domain": [0, 0.012], "nice": false, "zero": false},
   "axis": {"title": "u (m/s)", "values": [0,0.002,0.004,0.006,0.008,0.01,0.012],
    "labelExpr": "abs(datum.value/0.004-round(datum.value/0.004))<0.01 ? format(datum.value,'~g') : ''",
    "tickSize": {"condition": {"test": "abs(datum.value/0.004-round(datum.value/0.004))>0.01", "value": 6}, "value": 10}}},
  "y": {"field": "y", "type": "quantitative", "scale": {"domain": [0, 0.01], "nice": false, "zero": false},
   "axis": {"title": "y (m)", "values": [0,0.001,0.002,0.003,0.004,0.005,0.006,0.007,0.008,0.009,0.01],
    "labelExpr": "abs(datum.value/0.002-round(datum.value/0.002))<0.01 ? format(datum.value,'~g') : ''",
    "tickSize": {"condition": {"test": "abs(datum.value/0.002-round(datum.value/0.002))>0.01", "value": 6}, "value": 10}}},
  "order": {"field": "y", "type": "quantitative"},
  "strokeDash": {"field": "series", "type": "nominal",
   "scale": {"domain": ["q100","q200","q300","q400","q500","q600"], "range": [[10,8],[12,4,2,4],[18,6],[10,3,2,3,2,3],[1,0],[1,0]]},
   "legend": {"title": " ", "titleFontSize": 8, "titlePadding": 3, "orient": "none", "legendX": 13, "legendY": 204,
    "labelExpr": "'qw=' + slice(datum.label, 1) + ' W/m²'",
    "encode": {"symbols": {"update": {"shape": {"signal": "datum.value === 'q600' ? 'M-1.8,0H13.4M5.3,-0.5H6.3V0.5H5.3Z' : 'M-1.8,0H13.4'"}, "fill": {"signal": "datum.value === 'q600' ? '#d0261c' : 'transparent'"}, "stroke": {"value": "black"}, "strokeWidth": {"value": 1.1}, "opacity": {"value": 1}}},
               "legend": {"update": {"strokeWidth": {"value": 1.6}}}}}}
 }},
{"transform": [{"fold": ["q600"], "as": ["series","u"]}],
 "mark": {"type": "point", "shape": "square", "size": 14, "filled": true, "fill": "#d0261c", "stroke": "#7a0f0a", "strokeWidth": 0.6, "opacity": 1},
 "encoding": {"x": {"field": "u", "type": "quantitative"}, "y": {"field": "y", "type": "quantitative"}}},
{"data": {"name": "IC"}, "transform": [{"filter": "datum.g === 'frame'"}],
 "mark": {"type": "line", "color": "black", "strokeWidth": 3, "strokeJoin": "miter"},
 "encoding": {"x": {"field": "u", "type": "quantitative"}, "y": {"field": "y", "type": "quantitative"}, "order": {"field": "i", "type": "quantitative"}, "detail": {"field": "id", "type": "nominal"}}},
{"data": {"name": "IC"}, "transform": [{"filter": "datum.g === 'arrow'"}],
 "mark": {"type": "line", "color": "black", "strokeWidth": 2, "strokeJoin": "miter"},
 "encoding": {"x": {"field": "u", "type": "quantitative"}, "y": {"field": "y", "type": "quantitative"}, "order": {"field": "i", "type": "quantitative"}, "detail": {"field": "id", "type": "nominal"}}},
{"data": {"name": "IC"}, "transform": [{"filter": "datum.g === 'solid'"}],
 "mark": {"type": "line", "color": "black", "strokeWidth": 1.2},
 "encoding": {"x": {"field": "u", "type": "quantitative"}, "y": {"field": "y", "type": "quantitative"}, "order": {"field": "i", "type": "quantitative"}, "detail": {"field": "id", "type": "nominal"}}},
{"data": {"name": "IC"}, "transform": [{"filter": "datum.g === 'dashA'"}],
 "mark": {"type": "line", "color": "black", "strokeWidth": 1.4, "strokeDash": [9,4,2,4]},
 "encoding": {"x": {"field": "u", "type": "quantitative"}, "y": {"field": "y", "type": "quantitative"}, "order": {"field": "i", "type": "quantitative"}, "detail": {"field": "id", "type": "nominal"}}},
{"data": {"name": "IC"}, "transform": [{"filter": "datum.g === 'dashB'"}],
 "mark": {"type": "line", "color": "black", "strokeWidth": 1.4, "strokeDash": [8,5]},
 "encoding": {"x": {"field": "u", "type": "quantitative"}, "y": {"field": "y", "type": "quantitative"}, "order": {"field": "i", "type": "quantitative"}, "detail": {"field": "id", "type": "nominal"}}},
{"data": {"name": "IC"}, "transform": [{"filter": "datum.g === 'dot'"}],
 "mark": {"type": "point", "shape": "square", "size": 14, "filled": false, "stroke": "#d0261c", "strokeWidth": 1, "opacity": 1},
 "encoding": {"x": {"field": "u", "type": "quantitative"}, "y": {"field": "y", "type": "quantitative"}}},
{"data": {"values": [{"t": "c"}]},
 "mark": {"type": "text", "font": "Liberation Sans", "fontSize": 60, "fontWeight": "bold", "align": "center", "baseline": "alphabetic", "color": "black"},
 "encoding": {"x": {"datum": 0.00063, "type": "quantitative"}, "y": {"datum": 0.00856, "type": "quantitative"}, "text": {"field": "t"}}}
]
},
{
"width": 576, "height": 531,
"view": {"stroke": "black", "strokeWidth": 2.2},
"data": {"name": "D"},
"layer": [
{"transform": [{"fold": ["q100","q200","q300","q400","q500","q600"], "as": ["series","u"]}],
 "mark": {"type": "line", "color": "black", "strokeWidth": 1},
 "encoding": {
  "x": {"field": "u", "type": "quantitative", "scale": {"domain": [0, 0.012], "nice": false, "zero": false},
   "axis": {"title": "u (m/s)", "labelColor": "#333", "labelFontSize": 18, "labelPadding": 6, "values": [0,0.002,0.004,0.006,0.008,0.01,0.012],
    "labelExpr": "abs(datum.value/0.004-round(datum.value/0.004))<0.01 ? format(datum.value,'~g') : ''",
    "tickSize": {"condition": {"test": "abs(datum.value/0.004-round(datum.value/0.004))>0.01", "value": 7}, "value": 12}}},
  "y": {"field": "y", "type": "quantitative", "scale": {"domain": [0, 0.01], "nice": false, "zero": false},
   "axis": {"title": "y (m)", "labelColor": "#333", "labelFontSize": 18, "labelPadding": 6, "titlePadding": 14, "values": [0,0.001,0.002,0.003,0.004,0.005,0.006,0.007,0.008,0.009,0.01],
    "labelExpr": "abs(datum.value/0.002-round(datum.value/0.002))<0.01 ? format(datum.value,'~g') : ''",
    "tickSize": {"condition": {"test": "abs(datum.value/0.002-round(datum.value/0.002))>0.01", "value": 7}, "value": 12}}},
  "order": {"field": "y", "type": "quantitative"},
  "strokeDash": {"field": "series", "type": "nominal",
   "scale": {"domain": ["q100","q200","q300","q400","q500","q600"], "range": [[10,8],[12,4,2,4],[18,6],[10,3,2,3,2,3],[1,0],[1,0]]},
   "legend": {"title": " ", "titleFontSize": 8, "titlePadding": 3, "orient": "none", "legendX": 13, "legendY": 198,
    "labelFontWeight": "normal", "labelColor": "#222",
    "labelExpr": "'qw=' + slice(datum.label, 1) + ' W/m²'",
    "encode": {"symbols": {"update": {"shape": {"signal": "datum.value === 'q600' ? 'M-1.8,0H13.4M5.3,-0.5H6.3V0.5H5.3Z' : 'M-1.8,0H13.4'"}, "fill": {"signal": "datum.value === 'q600' ? '#d0261c' : 'transparent'"}, "stroke": {"value": "black"}, "strokeWidth": {"signal": "datum.value === 'q400' ? 2.2 : 1.1"}, "opacity": {"value": 1}}},
               "legend": {"update": {"strokeWidth": {"value": 2.2}}}}}}
 }},
{"transform": [{"fold": ["q600"], "as": ["series","u"]}],
 "mark": {"type": "point", "shape": "square", "size": 16, "filled": true, "fill": "#d0261c", "stroke": "#7a0f0a", "strokeWidth": 0.6, "opacity": 1},
 "encoding": {"x": {"field": "u", "type": "quantitative"}, "y": {"field": "y", "type": "quantitative"}}},
{"data": {"values": [{"t": "d"}]},
 "mark": {"type": "text", "font": "Liberation Sans", "fontSize": 60, "fontWeight": "bold", "align": "center", "baseline": "alphabetic", "color": "black"},
 "encoding": {"x": {"datum": 0.00071, "type": "quantitative"}, "y": {"datum": 0.0083, "type": "quantitative"}, "text": {"field": "t"}}}
]
}
],
"config": {
 "view": {"stroke": "black", "strokeWidth": 1.5},
 "axis": {"grid": false, "domainColor": "black", "domainWidth": 1.5, "tickColor": "black", "tickWidth": 1.3,
  "labelFont": "Liberation Sans", "labelFontSize": 19, "labelColor": "#111", "labelPadding": 4,
  "labelFlush": false, "labelOverlap": false,
  "titleFont": "Liberation Sans", "titleFontSize": 26, "titleFontWeight": "bold", "titleColor": "#111"},
 "axisX": {"titlePadding": 11},
 "axisY": {"titlePadding": 6},
 "legend": {"symbolSize": 100, "symbolStrokeWidth": 1.1, "symbolStrokeColor": "black", "symbolFillColor": "transparent",
  "labelFont": "Liberation Sans", "labelFontSize": 17, "labelFontWeight": "bold", "labelColor": "black",
  "labelOffset": 72, "rowPadding": 3.6, "padding": 10, "strokeColor": "black", "fillColor": "white", "labelLimit": 300}
}
}
